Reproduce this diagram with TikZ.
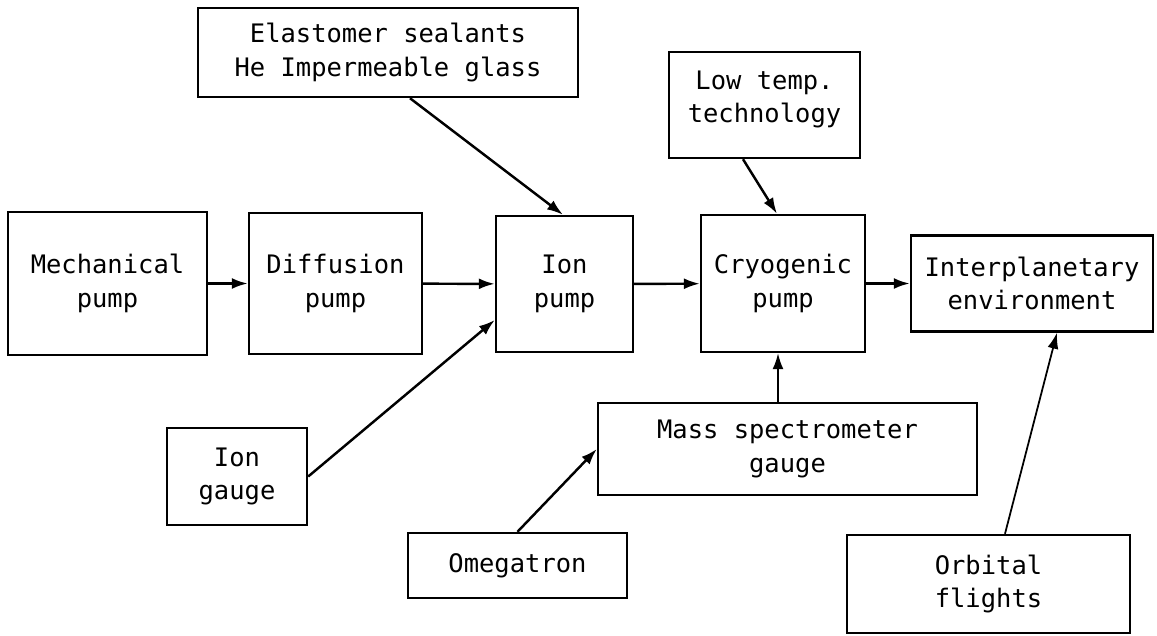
\documentclass[tikz,border=0pt]{standalone}
\usepackage{fontspec}
\setmonofont{DejaVu Sans Mono}
\usepackage{tikz}
\usetikzlibrary{arrows.meta}

\tikzset{
  box/.style={draw, line width=1.4pt, align=center, inner sep=0pt,
    font=\ttfamily\fontsize{14.5}{19}\selectfont},
  flow/.style={-{Latex[length=0.32cm,width=0.22cm]}, line width=1.4pt}
}

\begin{document}
\begin{tikzpicture}[x=0.02cm, y=-0.02cm]
  \useasboundingbox (0,0) rectangle (1157,636);
  % main chain
  \node (mech) [box, minimum width=3.98cm, minimum height=2.86cm] at (107.5,283.5) {Mechanical\\pump};
  \node (diff) [box, minimum width=3.46cm, minimum height=2.82cm] at (335.5,283.5) {Diffusion\\pump};
  \node (ionpump) [box, minimum width=2.74cm, minimum height=2.72cm] at (564.5,284) {Ion\\pump};
  \node (cryo) [box, minimum width=3.28cm, minimum height=2.74cm] at (783,283.5) {Cryogenic\\pump};
  \node (inter) [box, minimum width=4.84cm, minimum height=1.92cm] at (1032,283.5) {Interplanetary\\environment};
  % feeding boxes
  \node (elast) [box, minimum width=7.60cm, minimum height=1.78cm] at (388,52.5) {Elastomer sealants\\He Impermeable glass};
  \node (lowtemp) [box, minimum width=3.82cm, minimum height=2.12cm] at (764.5,105) {Low temp.\\technology\\[-9.5pt]\mbox{}};
  \node (iongauge) [box, minimum width=2.80cm, minimum height=1.94cm] at (237,476.5) {Ion\\gauge};
  \node (massspec) [box, minimum width=7.58cm, minimum height=1.84cm] at (787.5,449) {Mass spectrometer\\gauge};
  \node (omega) [box, minimum width=4.38cm, minimum height=1.30cm] at (517.5,565.5) {Omegatron};
  \node (orbital) [box, minimum width=5.66cm, minimum height=1.96cm] at (988.5,584) {Orbital\\flights};

  \draw [flow] (mech) -- (diff);
  \draw [flow] (diff) -- (ionpump);
  \draw [flow] (ionpump) -- (cryo);
  \draw [flow] (cryo) -- (inter);
  \draw [flow] ([xshift=0.44cm]elast.south) -- ([xshift=-0.03cm]ionpump.north);
  \draw [flow] ([xshift=-0.43cm]lowtemp.south) -- ([xshift=-0.12cm]cryo.north);
  \draw [flow] (iongauge.east) -- ([yshift=-0.72cm]ionpump.west);
  \draw [flow, line width=1pt] ([xshift=-0.19cm]massspec.north) -- ([xshift=-0.19cm]massspec.north |- cryo.south);
  \draw [flow] (omega.north) -- (massspec.west);
  \draw [flow, line width=1pt] ([xshift=0.33cm]orbital.north) -- ([xshift=0.5cm]inter.south);
\end{tikzpicture}
\end{document}
